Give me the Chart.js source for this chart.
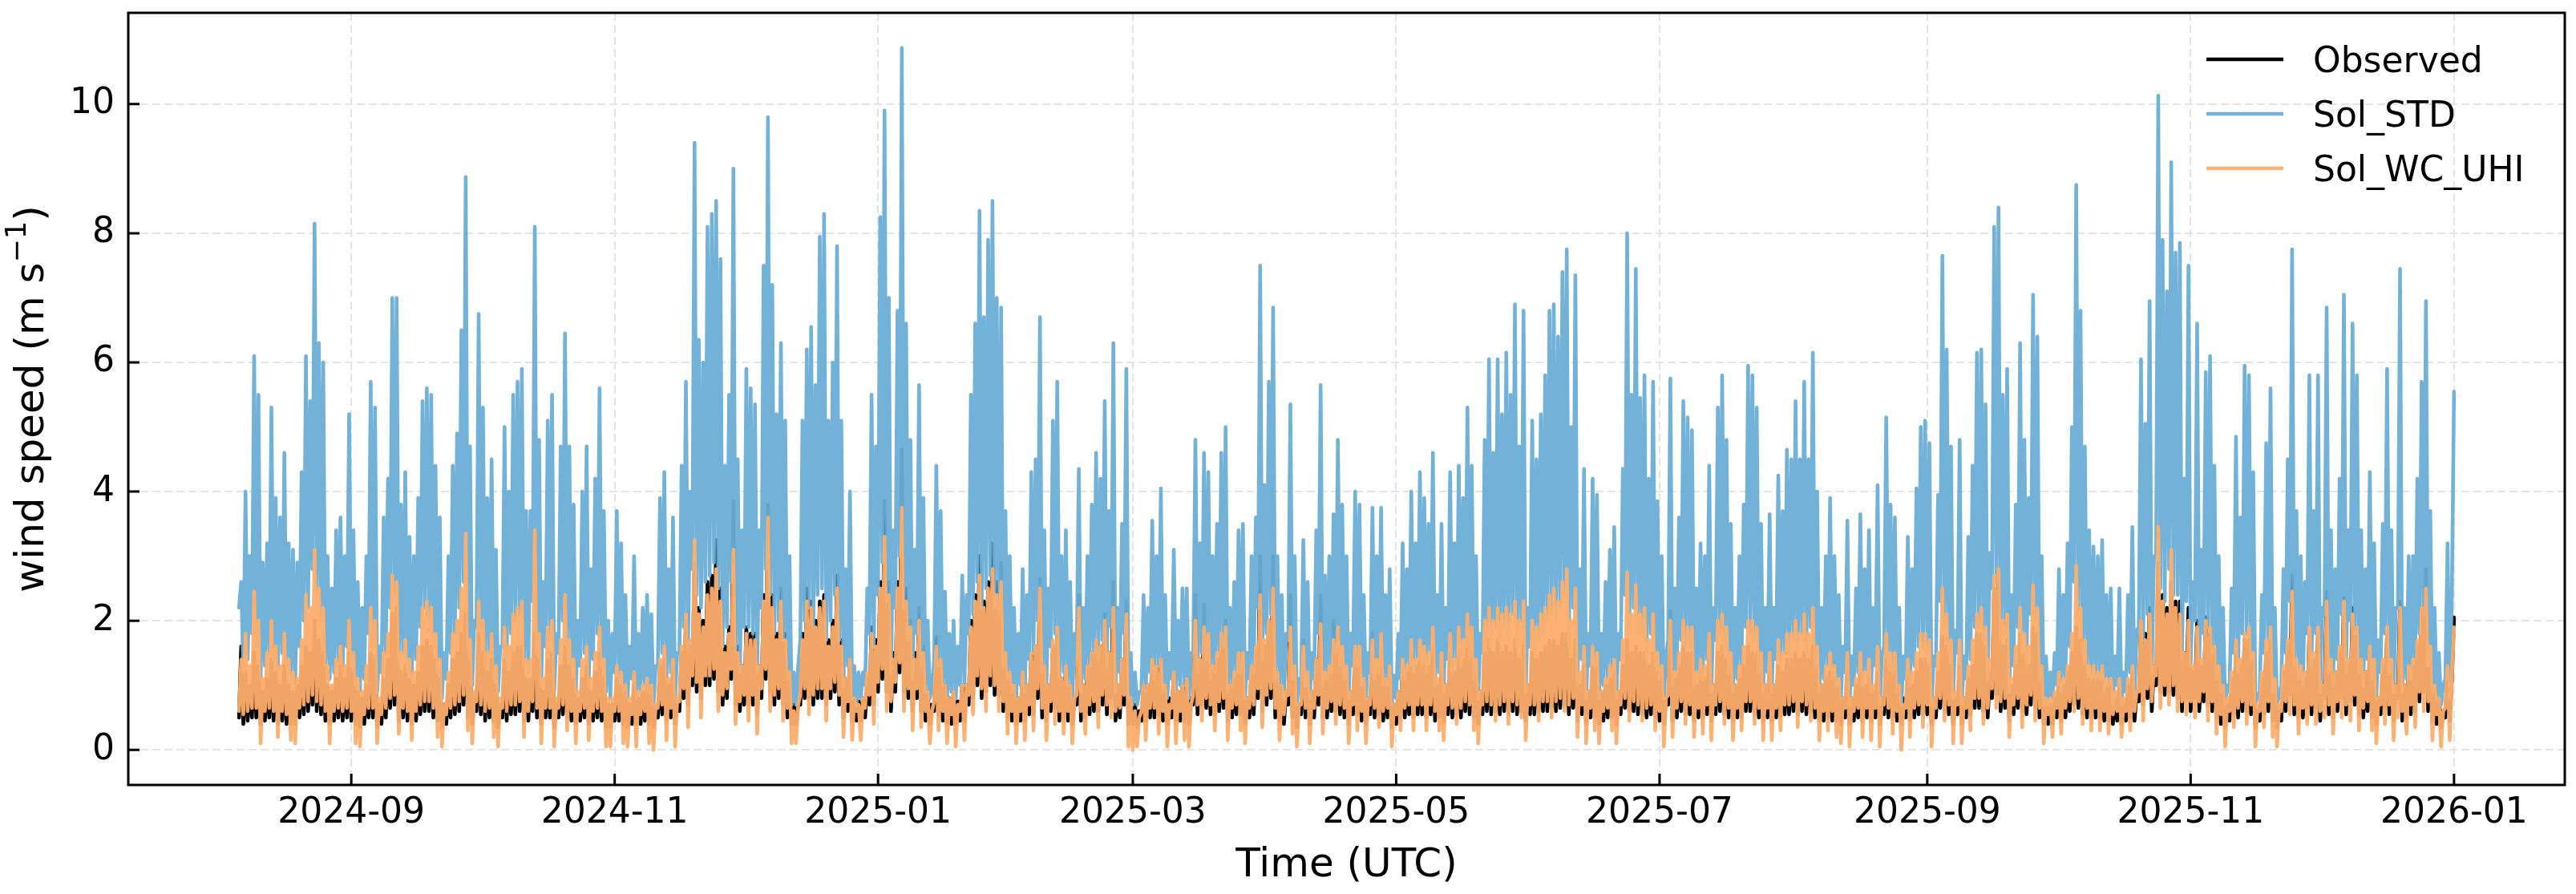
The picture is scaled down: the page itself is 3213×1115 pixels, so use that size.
<!DOCTYPE html>
<html lang="en">

<head>
  <meta charset="UTF-8" />
  <title>Wind speed: observed vs Sol_STD vs Sol_WC_UHI</title>
  <style>
    html, body { margin: 0; padding: 0; background: #fff; }
    canvas { display: block; }
  </style>
</head>

<body>
  <canvas id="myChart" width="3213" height="1115"></canvas>
  <script src="https://cdn.jsdelivr.net/npm/chart.js@4.4.1/dist/chart.umd.min.js"></script>
  <script>
    // series start 2024-08-06 00:00 UTC, one value every 12 h (night, afternoon)
    const startDate = '2024-08-06';
    const stepDays = 0.5;

    const observed = [
      0.5,1.6, 0.4,1.2, 0.45,1.0, 0.5,1.5, 0.5,1.3, 0.4,0.9, 0.45,1.1, 0.5,1.4, 0.45,1.2, 0.4,1.0,
      0.45,1.3, 0.4,1.0, 0.4,0.9, 0.4,1.0, 0.5,1.3, 0.55,1.6, 0.6,1.5, 0.7,2.0, 0.6,1.7, 0.55,1.5,
      0.45,1.0, 0.4,0.9, 0.45,1.1, 0.5,1.3, 0.45,1.1, 0.5,1.5, 0.45,1.2, 0.4,0.9, 0.35,0.8, 0.4,1.0,
      0.5,1.5, 0.5,1.4, 0.35,0.7, 0.4,1.1, 0.5,1.4, 0.65,2.1, 0.7,2.2, 0.45,1.2, 0.5,1.3, 0.45,1.1,
      0.4,1.0, 0.45,1.2, 0.55,1.6, 0.6,1.7, 0.6,1.6, 0.5,1.4, 0.45,1.1, 0.35,0.7, 0.4,1.0, 0.5,1.4,
      0.55,1.5, 0.6,1.8, 0.7,2.1, 0.5,1.4, 0.4,0.8, 0.6,1.8, 0.55,1.5, 0.45,1.2, 0.5,1.4, 0.45,1.0,
      0.35,0.7, 0.5,1.4, 0.45,1.2, 0.55,1.5, 0.55,1.6, 0.6,1.6, 0.45,1.1, 0.45,1.1, 0.6,1.8, 0.5,1.4,
      0.4,0.9, 0.5,1.4, 0.5,1.5, 0.35,0.7, 0.5,1.3, 0.55,1.6, 0.5,1.3, 0.45,1.1, 0.4,0.8, 0.45,1.1,
      0.5,1.3, 0.4,0.9, 0.45,1.2, 0.5,1.5, 0.45,1.1, 0.35,0.7, 0.35,0.7, 0.45,1.1, 0.45,1.0, 0.4,0.9,
      0.35,0.7, 0.4,1.0, 0.4,0.8, 0.4,0.9, 0.45,1.0, 0.4,0.9, 0.35,0.6, 0.5,1.3, 0.55,1.4, 0.45,1.0,
      0.5,1.2, 0.4,0.7, 0.6,1.5, 0.8,2.0, 0.7,1.6, 1.0,2.9, 0.9,2.2, 0.8,2.0, 1.0,2.6, 1.0,2.7,
      1.1,3.25, 0.9,2.5, 0.7,1.6, 0.8,1.9, 1.1,3.85, 0.7,1.6, 0.6,1.3, 0.7,1.9, 0.7,1.8, 0.7,1.8,
      0.55,1.3, 0.8,2.4, 1.1,3.8, 0.9,2.4, 0.7,1.8, 0.8,2.5, 0.7,1.8, 0.5,1.2, 0.4,0.7, 0.4,0.7,
      0.7,1.8, 0.8,2.5, 0.8,2.3, 0.7,2.0, 0.8,2.3, 0.8,2.4, 0.7,1.7, 0.8,2.0, 0.9,2.7, 0.7,1.7,
      0.5,1.1, 0.6,1.4, 0.45,0.8, 0.45,0.75, 0.45,0.8, 0.5,1.1, 0.7,1.9, 0.7,1.7, 0.9,2.6, 1.1,3.85,
      0.9,2.6, 0.6,1.5, 0.9,2.6, 1.2,4.65, 0.9,2.5, 0.8,2.0, 0.6,1.5, 0.8,2.2, 0.6,1.6, 0.45,0.9,
      0.4,0.7, 0.6,1.75, 0.55,1.4, 0.45,1.0, 0.4,0.8, 0.4,0.9, 0.4,0.75, 0.45,1.0, 0.45,1.0, 0.7,2.0,
      0.8,2.4, 1.0,3.0, 0.8,2.3, 0.9,2.6, 1.0,3.2, 0.85,2.6, 0.85,2.9, 0.6,1.5, 0.5,1.2, 0.45,1.0,
      0.4,0.8, 0.45,1.2, 0.45,1.0, 0.55,1.5, 0.55,1.6, 0.8,2.65, 0.5,1.3, 0.45,1.0, 0.6,1.6, 0.65,1.8,
      0.45,1.1, 0.5,1.3, 0.45,1.0, 0.4,0.8, 0.7,2.4, 0.45,1.0, 0.5,1.3, 0.55,1.5, 0.6,1.7, 0.6,1.6,
      0.7,2.1, 0.55,1.5, 0.8,2.6, 0.45,1.0, 0.5,1.4, 0.7,2.3, 0.4,0.8, 0.4,0.7, 0.35,0.6, 0.45,1.0,
      0.45,1.0, 0.5,1.4, 0.5,1.3, 0.55,1.4, 0.45,1.0, 0.4,0.8, 0.5,1.2, 0.45,0.9, 0.45,1.0, 0.45,1.1,
      0.4,0.8, 0.7,2.4, 0.55,1.4, 0.7,2.25, 0.65,1.8, 0.55,1.3, 0.55,1.4, 0.6,1.7, 0.65,2.0, 0.45,1.0,
      0.5,1.1, 0.55,1.4, 0.55,1.4, 0.4,0.8, 0.5,1.3, 0.55,1.5, 0.8,3.0, 0.6,1.6, 0.7,2.0, 0.8,3.0,
      0.5,1.2, 0.45,1.0, 0.4,0.9, 0.7,2.4, 0.5,1.3, 0.35,0.7, 0.55,1.7, 0.5,1.2, 0.4,0.9, 0.5,1.4,
      0.7,2.4, 0.5,1.2, 0.5,1.3, 0.6,2.0, 0.6,1.8, 0.55,1.5, 0.5,1.3, 0.4,0.9, 0.55,1.5, 0.55,1.5,
      0.45,1.1, 0.4,0.8, 0.55,1.8, 0.5,1.4, 0.55,1.8, 0.45,1.1, 0.5,1.2, 0.35,0.7, 0.4,0.9, 0.5,1.3,
      0.5,1.2, 0.55,1.5, 0.5,1.3, 0.55,1.5, 0.55,1.4, 0.5,1.3, 0.55,1.6, 0.45,1.0, 0.5,1.3, 0.45,1.0,
      0.55,1.5, 0.5,1.2, 0.55,1.5, 0.5,1.4, 0.6,1.7, 0.55,1.5, 0.5,1.2, 0.4,0.9, 0.55,1.5, 0.6,1.7,
      0.55,1.5, 0.6,1.7, 0.55,1.5, 0.6,1.6, 0.55,1.5, 0.6,1.7, 0.55,1.4, 0.6,1.6, 0.45,1.0, 0.55,1.5,
      0.55,1.4, 0.6,1.5, 0.6,1.6, 0.6,1.7, 0.65,1.7, 0.6,1.6, 0.65,1.8, 0.7,1.8, 0.55,1.4, 0.65,1.7,
      0.45,1.0, 0.55,1.3, 0.4,0.9, 0.5,1.3, 0.5,1.3, 0.4,0.9, 0.45,1.0, 0.5,1.1, 0.5,1.2, 0.4,0.9,
      0.55,1.3, 0.65,1.7, 0.6,1.5, 0.6,1.6, 0.55,1.5, 0.55,1.5, 0.5,1.3, 0.55,1.5, 0.5,1.2, 0.45,1.1,
      0.4,0.8, 0.7,2.15, 0.45,1.1, 0.5,1.3, 0.6,1.6, 0.55,1.5, 0.55,1.5, 0.45,1.0, 0.5,1.2, 0.5,1.1,
      0.55,1.4, 0.45,1.0, 0.55,1.5, 0.6,1.6, 0.55,1.4, 0.5,1.2, 0.45,1.0, 0.5,1.1, 0.5,1.3, 0.6,1.6,
      0.6,1.5, 0.55,1.5, 0.5,1.2, 0.45,1.0, 0.5,1.2, 0.45,1.0, 0.5,1.3, 0.5,1.2, 0.55,1.4, 0.55,1.4,
      0.6,1.5, 0.55,1.4, 0.6,1.5, 0.55,1.4, 0.6,1.6, 0.5,1.3, 0.45,1.0, 0.45,1.1, 0.5,1.2, 0.45,1.1,
      0.45,1.0, 0.4,0.8, 0.5,1.2, 0.4,0.8, 0.45,1.0, 0.5,1.2, 0.45,1.0, 0.5,1.1, 0.45,0.9, 0.5,1.2,
      0.4,0.8, 0.55,1.4, 0.5,1.2, 0.5,1.2, 0.45,0.9, 0.4,0.8, 0.5,1.1, 0.45,1.0, 0.5,1.2, 0.55,1.4,
      0.55,1.4, 0.55,1.3, 0.4,0.8, 0.5,1.2, 0.65,1.75, 0.6,1.6, 0.55,1.3, 0.4,0.8, 0.55,1.3, 0.4,0.8,
      0.5,1.1, 0.55,1.3, 0.65,1.8, 0.65,1.8, 0.6,1.6, 0.5,1.2, 0.8,2.5, 0.85,2.75, 0.6,1.6, 0.65,1.7,
      0.45,1.0, 0.55,1.3, 0.65,1.8, 0.6,1.5, 0.55,1.3, 0.7,1.9, 0.65,1.8, 0.5,1.1, 0.4,0.8, 0.4,0.7,
      0.4,0.8, 0.5,1.1, 0.45,1.0, 0.5,1.2, 0.6,1.5, 0.7,1.9, 0.65,1.7, 0.55,1.3, 0.5,1.1, 0.5,1.1,
      0.5,1.1, 0.5,1.1, 0.45,1.0, 0.45,1.0, 0.4,0.8, 0.45,1.0, 0.4,0.7, 0.45,1.0, 0.5,1.2, 0.45,0.9,
      0.75,2.0, 0.7,1.8, 0.8,2.2, 0.6,1.3, 1.0,2.9, 0.9,2.4, 0.85,2.2, 0.9,2.6, 0.85,2.3, 0.8,2.3,
      0.6,1.5, 0.8,2.2, 0.6,1.2, 0.8,2.0, 0.6,1.3, 0.75,2.05, 0.7,1.8, 0.6,1.5, 0.5,1.2, 0.4,0.9,
      0.35,0.7, 0.45,1.1, 0.55,1.5, 0.5,1.3, 0.6,1.7, 0.6,1.7, 0.55,1.4, 0.35,0.6, 0.45,1.1, 0.55,1.5,
      0.6,1.7, 0.45,1.0, 0.35,0.6, 0.45,1.2, 0.6,1.6, 0.85,2.7, 0.55,1.3, 0.5,1.2, 0.5,1.1, 0.65,1.8,
      0.55,1.4, 0.65,1.8, 0.45,1.0, 0.8,2.45, 0.55,1.3, 0.5,1.2, 0.6,1.5, 0.8,2.35, 0.55,1.3, 0.75,2.2,
      0.7,1.9, 0.55,1.3, 0.5,1.2, 0.6,1.5, 0.5,1.3, 0.4,0.8, 0.55,1.3, 0.65,1.8, 0.55,1.3, 0.45,1.0,
      0.8,2.3, 0.45,1.0, 0.5,1.2, 0.55,1.3, 0.6,1.6, 0.75,2.2, 0.9,2.8, 0.6,1.5, 0.45,1.0, 0.4,0.8,
      0.35,0.6, 0.5,1.3, 0.45,1.1,
      2.05
    ];

    const solStd = [
      2.2,2.6, 1.2,4.0, 1.4,3.0, 1.8,6.1, 1.6,5.5, 1.1,2.9, 1.3,3.2, 1.5,5.3, 1.4,3.9, 1.2,3.6,
      1.5,4.6, 1.3,3.2, 1.1,3.1, 1.0,2.9, 1.6,4.3, 2.0,6.1, 2.2,5.4, 2.8,8.15, 2.4,6.3, 2.0,6.0,
      1.3,3.0, 1.1,2.5, 1.2,3.4, 1.4,3.6, 1.2,3.0, 1.6,5.2, 1.3,3.4, 1.0,2.6, 0.9,2.2, 1.1,3.0,
      1.8,5.7, 1.6,5.3, 0.9,1.6, 1.2,3.6, 1.5,4.2, 2.2,7.0, 2.4,7.0, 1.4,3.8, 1.5,4.3, 1.2,3.3,
      1.1,3.0, 1.4,3.9, 1.9,5.4, 2.2,5.6, 2.0,5.5, 1.6,4.4, 1.2,3.6, 0.8,1.5, 1.1,3.0, 1.5,4.4,
      1.8,4.9, 2.2,6.5, 2.6,8.87, 1.6,4.7, 1.0,2.0, 1.9,6.75, 1.8,5.3, 1.3,3.9, 1.5,4.5, 1.1,3.1,
      0.9,1.6, 1.6,5.0, 1.4,4.0, 1.8,5.5, 2.0,5.7, 2.1,5.9, 1.3,3.7, 1.2,3.7, 2.3,8.1, 1.5,4.8,
      1.0,2.6, 1.6,5.1, 1.8,5.5, 0.9,1.8, 1.5,4.7, 2.0,6.45, 1.6,4.7, 1.3,3.8, 0.9,2.0, 1.3,4.0,
      1.5,4.7, 1.0,2.8, 1.4,4.2, 1.8,5.6, 1.3,3.7, 0.9,2.0, 0.8,1.8, 1.2,3.7, 1.1,3.2, 0.9,2.4,
      0.8,1.6, 1.1,3.0, 0.8,1.8, 0.9,2.2, 1.0,2.4, 0.9,2.1, 0.7,1.3, 1.3,3.9, 1.5,4.3, 1.1,2.8,
      1.2,3.6, 0.8,1.5, 1.5,4.4, 1.9,5.7, 1.6,4.0, 2.8,9.4, 2.4,6.35, 2.2,6.0, 2.6,8.1, 2.7,8.3,
      2.9,8.5, 2.5,7.6, 1.6,4.4, 1.9,5.5, 2.6,9.0, 1.5,4.5, 1.2,3.4, 1.9,5.9, 1.9,5.6, 1.8,5.35,
      1.2,3.4, 2.2,7.5, 2.8,9.8, 2.4,7.2, 1.8,5.2, 2.0,6.3, 1.7,5.1, 1.1,3.0, 0.7,1.2, 0.7,1.3,
      1.7,5.1, 2.0,6.2, 2.2,6.55, 1.9,5.65, 2.4,7.95, 2.5,8.3, 1.7,5.1, 2.0,6.0, 2.4,7.8, 1.7,5.1,
      1.0,2.8, 1.3,4.0, 0.8,1.3, 0.7,1.2, 0.8,1.2, 1.0,2.5, 1.8,5.5, 1.6,4.7, 2.4,8.25, 2.9,9.9,
      2.3,7.0, 1.2,3.4, 2.2,6.8, 3.0,10.87, 2.2,6.6, 1.7,4.8, 1.1,3.1, 1.8,5.65, 1.3,3.9, 0.9,2.0,
      0.8,1.0, 1.4,4.4, 1.3,3.7, 1.0,2.45, 0.8,1.8, 0.9,2.0, 0.8,1.6, 1.0,2.7, 1.0,2.4, 1.8,5.5,
      2.1,6.6, 2.6,8.35, 2.2,6.7, 2.5,7.9, 2.7,8.5, 2.2,7.0, 2.1,6.85, 1.3,3.7, 1.1,3.0, 0.9,2.2,
      0.8,1.8, 1.0,2.8, 0.9,2.4, 1.4,4.3, 1.5,4.5, 2.0,6.7, 1.2,3.4, 1.0,2.5, 1.6,5.1, 1.8,5.7,
      1.1,3.0, 1.2,3.4, 1.0,2.6, 0.8,1.8, 1.4,4.35, 0.9,2.2, 1.1,3.0, 1.3,3.8, 1.5,4.6, 1.4,4.2,
      1.7,5.4, 1.3,3.7, 1.9,6.3, 0.9,2.2, 1.2,3.5, 1.8,5.9, 0.8,1.5, 0.7,1.2, 0.7,0.9, 0.9,2.4,
      0.9,2.2, 1.2,3.55, 1.1,3.0, 1.3,4.05, 0.9,2.4, 0.8,1.5, 1.1,3.1, 0.9,2.0, 1.0,2.5, 1.0,2.5,
      0.8,1.5, 1.5,4.8, 1.2,3.2, 1.5,4.6, 1.4,4.3, 1.1,3.0, 1.2,3.5, 1.5,4.6, 1.6,5.0, 0.9,2.2,
      1.0,2.6, 1.2,3.4, 1.2,3.5, 0.8,1.5, 1.1,3.0, 1.2,3.6, 2.2,7.5, 1.4,4.1, 1.8,5.7, 2.1,6.85,
      1.1,3.0, 1.0,2.4, 0.8,1.8, 1.7,5.35, 1.1,3.0, 0.7,1.1, 1.1,3.25, 1.0,2.6, 0.8,1.5, 1.1,3.4,
      1.8,5.65, 1.0,2.7, 1.1,3.0, 1.2,3.65, 1.5,4.8, 1.3,3.8, 1.1,3.0, 0.8,1.8, 1.3,4.0, 1.3,3.8,
      1.0,2.4, 0.8,1.5, 1.2,3.75, 1.1,3.0, 1.2,3.75, 1.0,2.4, 1.0,2.8, 0.7,1.15, 0.8,1.8, 1.1,3.2,
      1.1,2.8, 1.3,4.0, 1.2,3.2, 1.4,4.3, 1.3,3.9, 1.2,3.5, 1.5,4.6, 1.0,2.4, 1.2,3.5, 0.9,2.2,
      1.4,4.3, 1.2,3.2, 1.4,4.4, 1.3,3.9, 1.6,5.3, 1.4,4.4, 1.1,3.0, 0.8,1.8, 1.5,4.8, 1.8,6.05,
      1.6,4.6, 1.9,6.05, 1.7,5.2, 1.9,6.15, 1.7,5.5, 2.1,6.9, 1.6,4.7, 2.0,6.8, 0.9,2.2, 1.6,5.1,
      1.5,4.5, 1.7,5.2, 1.8,5.8, 2.0,6.8, 2.1,6.9, 2.0,6.4, 2.2,7.4, 2.4,7.75, 1.6,5.0, 2.2,7.35,
      1.0,2.8, 1.4,4.35, 0.8,1.8, 1.3,4.2, 1.3,3.95, 0.8,1.8, 1.0,2.6, 1.1,3.1, 1.2,3.45, 0.8,1.8,
      1.4,4.35, 2.4,8.0, 1.8,5.5, 2.2,7.45, 1.8,5.45, 1.8,5.8, 1.4,4.2, 1.8,5.7, 1.3,3.85, 1.1,3.0,
      0.8,1.45, 1.7,5.75, 1.0,2.5, 1.2,3.6, 1.7,5.4, 1.6,5.15, 1.6,4.95, 1.0,2.5, 1.1,3.2, 1.1,3.0,
      1.4,4.4, 0.9,2.2, 1.7,5.3, 1.8,5.8, 1.5,4.8, 1.2,3.5, 0.9,2.2, 1.1,3.0, 1.3,3.8, 1.9,5.95,
      1.8,5.8, 1.7,5.3, 1.2,3.5, 0.9,2.2, 1.2,3.65, 0.9,2.2, 1.4,4.25, 1.3,3.7, 1.5,4.65, 1.5,4.5,
      1.7,5.4, 1.5,4.5, 1.8,5.7, 1.5,4.5, 1.9,6.15, 1.3,4.0, 0.9,2.2, 1.1,3.0, 1.3,3.9, 1.1,3.0,
      1.0,2.4, 0.8,1.6, 1.2,3.55, 0.7,1.45, 1.0,2.5, 1.2,3.65, 1.0,2.8, 1.1,3.4, 0.9,2.2, 1.3,4.1,
      0.7,1.45, 1.6,5.15, 1.3,3.8, 1.2,3.6, 0.9,2.2, 0.7,1.45, 1.1,3.3, 1.0,2.8, 1.3,4.05, 1.6,5.0,
      1.6,5.1, 1.5,4.75, 0.7,1.45, 1.3,3.95, 2.3,7.65, 1.9,6.2, 1.5,4.7, 0.8,1.85, 1.5,4.8, 0.7,1.45,
      1.1,3.3, 1.4,4.4, 1.9,6.15, 1.9,6.2, 1.7,5.35, 1.1,3.05, 2.5,8.1, 2.6,8.4, 1.7,5.5, 1.8,5.9,
      0.9,2.4, 1.3,3.8, 1.9,6.3, 1.5,4.8, 1.3,3.9, 2.1,7.05, 2.0,6.4, 1.1,3.0, 0.7,1.45, 0.7,1.2,
      0.8,1.5, 1.0,2.8, 0.9,2.4, 1.1,3.2, 1.6,5.0, 2.6,8.75, 2.1,6.8, 1.5,4.7, 1.2,3.4, 1.1,3.15,
      1.1,3.0, 1.1,3.25, 0.9,2.4, 1.0,2.5, 0.7,1.45, 1.0,2.5, 0.7,1.2, 0.9,2.4, 1.2,3.45, 0.8,1.85,
      1.9,6.05, 1.7,5.05, 2.1,6.95, 1.2,3.0, 3.0,10.13, 2.5,7.9, 2.3,7.1, 2.8,9.1, 2.4,7.7, 2.4,7.85,
      1.4,4.2, 2.3,7.5, 1.3,2.6, 2.0,6.6, 1.4,3.1, 1.8,5.85, 1.9,6.1, 1.5,4.4, 1.1,3.0, 0.9,2.2,
      0.7,1.0, 0.9,2.5, 1.5,4.85, 1.2,3.6, 1.8,5.95, 1.8,5.8, 1.4,4.3, 0.7,0.85, 0.9,2.4, 1.5,4.75,
      1.7,5.6, 0.9,2.2, 0.7,0.85, 1.0,2.8, 1.5,4.5, 2.3,7.75, 1.3,3.7, 1.1,3.0, 1.0,2.6, 1.8,5.8,
      1.3,3.7, 1.8,5.8, 0.9,2.2, 2.1,6.85, 1.2,3.4, 1.0,2.8, 1.4,4.2, 2.1,7.05, 1.2,3.4, 2.0,6.6,
      1.8,5.8, 1.2,3.4, 1.0,2.8, 1.4,4.3, 1.1,3.2, 0.8,1.7, 1.2,3.5, 1.8,5.9, 1.2,3.4, 0.9,2.2,
      2.2,7.45, 0.9,2.2, 1.1,3.0, 1.1,3.0, 1.4,4.2, 1.8,5.7, 2.1,6.95, 1.3,3.7, 0.9,2.2, 0.8,1.5,
      0.7,1.0, 1.1,3.2, 0.8,2.4,
      5.55
    ];

    const solWcUhi = [
      0.6,1.4, 0.55,1.8, 0.6,1.3, 0.65,2.45, 0.65,2.0, 0.1,1.1, 0.6,1.5, 0.65,2.0, 0.6,1.6, 0.2,1.3,
      0.6,1.8, 0.55,1.4, 0.15,1.2, 0.1,1.1, 0.65,1.7, 0.7,2.4, 0.75,2.2, 0.85,3.1, 0.75,2.5, 0.7,2.2,
      0.6,1.3, 0.1,1.0, 0.6,1.4, 0.65,1.6, 0.6,1.3, 0.65,2.0, 0.6,1.5, 0.1,1.1, 0.05,0.9, 0.55,1.3,
      0.65,2.2, 0.65,2.0, 0.1,0.8, 0.55,1.5, 0.65,1.8, 0.8,2.7, 0.85,2.6, 0.25,1.5, 0.65,1.7, 0.6,1.4,
      0.15,1.2, 0.6,1.6, 0.7,2.2, 0.75,2.3, 0.75,2.2, 0.65,1.8, 0.2,1.4, 0.05,0.7, 0.55,1.2, 0.65,1.8,
      0.7,2.0, 0.75,2.5, 0.85,3.35, 0.3,1.7, 0.1,0.9, 0.75,2.3, 0.7,2.0, 0.6,1.5, 0.65,1.8, 0.2,1.3,
      0.05,0.8, 0.65,1.9, 0.6,1.6, 0.7,2.1, 0.7,2.2, 0.75,2.3, 0.2,1.4, 0.6,1.4, 0.75,3.4, 0.65,1.8,
      0.1,1.1, 0.65,1.9, 0.65,2.0, 0.05,0.8, 0.65,1.7, 0.7,2.4, 0.3,1.7, 0.6,1.4, 0.1,0.9, 0.6,1.4,
      0.65,1.6, 0.15,1.1, 0.6,1.5, 0.65,1.9, 0.6,1.4, 0.05,0.8, 0.05,0.8, 0.6,1.3, 0.6,1.2, 0.1,1.0,
      0.05,0.8, 0.55,1.2, 0.05,0.9, 0.55,1.0, 0.6,1.1, 0.1,1.0, 0.0,0.7, 0.65,1.4, 0.7,1.6, 0.15,1.1,
      0.65,1.4, 0.05,0.8, 0.75,1.6, 0.95,2.1, 0.35,1.7, 1.15,3.25, 1.05,2.1, 0.5,1.9, 1.15,2.4, 1.15,2.5,
      1.25,2.8, 0.6,2.3, 0.85,1.5, 0.95,1.8, 1.25,3.1, 0.4,1.5, 0.75,1.3, 0.85,1.8, 0.45,1.7, 0.85,1.7,
      0.25,1.3, 0.95,2.3, 1.25,3.6, 0.6,2.2, 0.85,1.7, 0.95,2.3, 0.45,1.7, 0.65,1.2, 0.1,0.6, 0.1,0.7,
      0.85,1.7, 0.95,2.3, 0.55,2.2, 0.85,1.9, 0.95,2.2, 0.95,2.3, 0.45,1.6, 0.95,1.9, 1.05,2.5, 0.85,1.6,
      0.2,1.1, 0.75,1.4, 0.15,0.8, 0.6,0.7, 0.15,0.8, 0.65,1.2, 0.85,1.8, 0.4,1.6, 1.05,2.5, 1.25,3.3,
      0.6,2.4, 0.75,1.4, 1.05,2.5, 1.35,3.75, 0.6,2.3, 0.95,1.9, 0.3,1.4, 0.95,2.0, 0.35,1.5, 0.6,0.9,
      0.1,0.6, 0.75,1.6, 0.3,1.4, 0.6,1.0, 0.1,0.8, 0.55,0.9, 0.05,0.7, 0.6,1.0, 0.15,1.0, 0.85,1.9,
      0.55,2.3, 1.15,2.7, 0.95,2.2, 0.6,2.5, 1.15,2.8, 1.0,2.4, 0.6,2.6, 0.75,1.5, 0.25,1.2, 0.6,1.0,
      0.1,0.8, 0.6,1.2, 0.15,1.0, 0.7,1.5, 0.3,1.6, 0.95,2.5, 0.65,1.3, 0.15,1.0, 0.75,1.7, 0.4,1.9,
      0.6,1.1, 0.25,1.3, 0.6,1.0, 0.1,0.8, 0.85,2.2, 0.6,1.0, 0.25,1.3, 0.7,1.5, 0.75,1.7, 0.35,1.6,
      0.85,2.0, 0.7,1.5, 0.5,2.2, 0.6,1.0, 0.65,1.4, 0.85,2.1, 0.05,0.8, 0.0,0.6, 0.05,0.5, 0.6,1.0,
      0.15,1.0, 0.65,1.4, 0.65,1.3, 0.25,1.4, 0.6,1.0, 0.05,0.7, 0.65,1.2, 0.1,0.9, 0.6,1.0, 0.15,1.1,
      0.05,0.7, 0.85,2.0, 0.7,1.4, 0.45,1.9, 0.8,1.8, 0.7,1.3, 0.3,1.5, 0.75,1.8, 0.8,1.9, 0.15,1.0,
      0.65,1.2, 0.7,1.5, 0.3,1.5, 0.1,0.8, 0.65,1.3, 0.7,1.6, 0.95,2.4, 0.35,1.7, 0.85,2.0, 0.95,2.5,
      0.65,1.2, 0.15,1.0, 0.55,0.9, 0.85,1.9, 0.25,1.3, 0.05,0.7, 0.7,1.6, 0.65,1.2, 0.1,0.9, 0.65,1.4,
      0.85,1.95, 0.25,1.2, 0.65,1.3, 0.75,1.7, 0.4,1.9, 0.7,1.6, 0.65,1.3, 0.1,0.9, 0.7,1.6, 0.3,1.6,
      0.6,1.1, 0.1,0.8, 0.7,1.7, 0.65,1.4, 0.35,1.8, 0.6,1.1, 0.65,1.3, 0.05,0.7, 0.55,0.9, 0.3,1.4,
      0.65,1.3, 0.7,1.7, 0.3,1.4, 0.7,1.7, 0.7,1.6, 0.3,1.5, 0.7,1.9, 0.6,1.1, 0.3,1.5, 0.15,1.0,
      0.7,1.8, 0.65,1.4, 0.4,1.9, 0.65,1.7, 0.75,2.1, 0.7,1.9, 0.3,1.4, 0.1,0.9, 0.7,2.0, 0.75,2.2,
      0.7,2.0, 0.45,2.2, 0.7,2.1, 0.75,2.2, 0.4,2.1, 0.75,2.3, 0.7,2.0, 0.5,2.3, 0.15,1.0, 0.7,2.0,
      0.7,1.9, 0.45,2.1, 0.75,2.2, 0.75,2.4, 0.5,2.5, 0.75,2.3, 0.8,2.6, 0.6,2.8, 0.7,2.0, 0.8,2.5,
      0.2,1.2, 0.7,1.6, 0.1,0.9, 0.65,1.6, 0.3,1.5, 0.1,0.9, 0.6,1.1, 0.65,1.3, 0.3,1.4, 0.1,0.9,
      0.7,1.7, 0.8,2.75, 0.45,2.1, 0.75,2.55, 0.7,2.1, 0.45,2.2, 0.65,1.7, 0.7,2.1, 0.3,1.5, 0.6,1.3,
      0.05,0.8, 0.85,2.0, 0.2,1.2, 0.65,1.5, 0.75,2.0, 0.4,1.9, 0.7,1.9, 0.2,1.2, 0.65,1.4, 0.25,1.3,
      0.7,1.8, 0.15,1.0, 0.7,2.0, 0.75,2.1, 0.4,1.9, 0.65,1.5, 0.15,1.0, 0.65,1.3, 0.3,1.6, 0.75,2.0,
      0.75,2.0, 0.4,1.9, 0.65,1.5, 0.15,1.0, 0.65,1.5, 0.15,1.0, 0.65,1.7, 0.3,1.5, 0.7,1.8, 0.7,1.8,
      0.75,2.0, 0.35,1.8, 0.75,2.1, 0.7,1.8, 0.45,2.2, 0.65,1.6, 0.15,1.0, 0.6,1.3, 0.3,1.5, 0.6,1.3,
      0.2,1.1, 0.1,0.8, 0.65,1.5, 0.05,0.8, 0.6,1.1, 0.65,1.5, 0.2,1.2, 0.65,1.4, 0.15,1.0, 0.65,1.6,
      0.05,0.8, 0.7,1.8, 0.65,1.5, 0.25,1.5, 0.6,1.0, 0.0,0.7, 0.65,1.4, 0.2,1.2, 0.65,1.5, 0.7,1.8,
      0.35,1.8, 0.7,1.7, 0.05,0.8, 0.65,1.5, 0.8,2.5, 0.45,2.1, 0.7,1.7, 0.1,0.9, 0.7,1.7, 0.1,0.8,
      0.65,1.3, 0.3,1.7, 0.8,2.1, 0.8,2.2, 0.4,1.9, 0.65,1.4, 0.95,2.7, 0.65,2.8, 0.75,2.0, 0.8,2.1,
      0.2,1.1, 0.7,1.6, 0.8,2.2, 0.35,1.8, 0.7,1.6, 0.85,2.55, 0.45,2.2, 0.65,1.3, 0.1,0.8, 0.55,0.8,
      0.2,0.9, 0.65,1.2, 0.25,1.1, 0.65,1.3, 0.75,1.8, 0.6,2.85, 0.8,2.2, 0.4,1.7, 0.65,1.3, 0.3,1.3,
      0.65,1.2, 0.3,1.3, 0.6,1.1, 0.25,1.1, 0.55,0.9, 0.6,1.1, 0.2,0.8, 0.6,1.1, 0.3,1.3, 0.6,0.9,
      0.9,2.0, 0.45,1.7, 0.95,2.1, 0.75,1.3, 1.15,3.45, 0.65,2.3, 1.0,2.1, 0.7,3.1, 1.0,2.2, 0.6,2.1,
      0.75,1.5, 0.55,2.0, 0.75,1.3, 0.5,1.9, 0.75,1.4, 0.9,2.0, 0.45,1.9, 0.75,1.6, 0.25,1.3, 0.55,1.0,
      0.05,0.8, 0.6,1.2, 0.35,1.7, 0.65,1.4, 0.75,1.8, 0.4,1.9, 0.7,1.5, 0.05,0.7, 0.6,1.2, 0.35,1.7,
      0.75,1.9, 0.2,1.1, 0.05,0.7, 0.6,1.3, 0.75,1.7, 0.55,2.45, 0.7,1.4, 0.25,1.3, 0.65,1.2, 0.4,1.9,
      0.7,1.5, 0.4,1.9, 0.6,1.0, 0.5,2.3, 0.7,1.4, 0.25,1.2, 0.75,1.6, 0.5,2.3, 0.7,1.4, 0.45,2.1,
      0.85,1.9, 0.3,1.4, 0.65,1.2, 0.75,1.6, 0.3,1.4, 0.1,0.8, 0.7,1.4, 0.4,1.9, 0.7,1.4, 0.15,1.0,
      0.5,2.2, 0.6,1.0, 0.25,1.3, 0.7,1.4, 0.35,1.7, 0.9,2.2, 0.6,2.5, 0.75,1.6, 0.15,1.0, 0.55,0.8,
      0.05,0.6, 0.65,1.3, 0.15,1.1,
      1.9
    ];

    const xTickLabels = ['2024-09', '2024-11', '2025-01', '2025-03', '2025-05',
                         '2025-07', '2025-09', '2025-11', '2026-01'];
    const yTicks = [0, 2, 4, 6, 8, 10];

    // day offsets from the first sample
    const t0 = Date.parse(startDate + 'T00:00:00Z');
    const toDays = s => (Date.parse(s + '-01T00:00:00Z') - t0) / 864e5;
    const xTickDays = xTickLabels.map(toDays);

    const asPoints = arr => arr.map((v, i) => ({ x: i * stepDays, y: v }));

    // matplotlib style 5% margins
    const lastDay = (observed.length - 1) * stepDays;
    const xPad = lastDay * 0.05;
    const yMaxData = 10.87, yPad = yMaxData * 0.05;

    const FONT = 'DejaVu Sans';

    const whiteBg = {
      id: 'whiteBg',
      beforeDraw(chart) {
        const ctx = chart.ctx;
        ctx.save();
        ctx.fillStyle = '#fff';
        ctx.fillRect(0, 0, chart.width, chart.height);
        ctx.restore();
      }
    };

    // box, inward ticks, y label with superscript, frameless legend
    const frame = {
      id: 'frame',
      afterDatasetsDraw(chart) {
        const { ctx, chartArea: a, scales: { x, y } } = chart;
        ctx.save();
        ctx.strokeStyle = '#000';
        ctx.lineWidth = 3;
        ctx.strokeRect(a.left, a.top, a.right - a.left, a.bottom - a.top);
        ctx.beginPath();
        x.ticks.forEach(t => {
          const px = x.getPixelForValue(t.value);
          ctx.moveTo(px, a.bottom);
          ctx.lineTo(px, a.bottom - 14);
        });
        y.ticks.forEach(t => {
          const py = y.getPixelForValue(t.value);
          ctx.moveTo(a.left, py);
          ctx.lineTo(a.left + 14, py);
        });
        ctx.stroke();

        // y axis label: wind speed (m s^-1)
        const big = '50px "' + FONT + '"', small = '35px "' + FONT + '"';
        const p1 = 'wind speed (m s', p2 = '\u22121', p3 = ')';
        ctx.font = big; const w1 = ctx.measureText(p1).width, w3 = ctx.measureText(p3).width;
        ctx.font = small; const w2 = ctx.measureText(p2).width;
        const total = w1 + w2 + w3;
        ctx.translate(54, (a.top + a.bottom) / 2);
        ctx.rotate(-Math.PI / 2);
        ctx.fillStyle = '#000';
        ctx.textBaseline = 'alphabetic';
        ctx.textAlign = 'left';
        let cx = -total / 2;
        ctx.font = big; ctx.fillText(p1, cx, 0); cx += w1;
        ctx.font = small; ctx.fillText(p2, cx, -22); cx += w2;
        ctx.font = big; ctx.fillText(p3, cx, 0);
        ctx.setTransform(1, 0, 0, 1, 0, 0);

        ctx.font = '44px "' + FONT + '"';
        chart.data.datasets.forEach((ds, i) => {
          const ly = 74 + i * 68;
          ctx.strokeStyle = ds.borderColor;
          ctx.lineWidth = 4.6;
          ctx.beginPath();
          ctx.moveTo(2752, ly);
          ctx.lineTo(2848, ly);
          ctx.stroke();
          ctx.fillStyle = '#000';
          ctx.fillText(ds.label, 2885, ly + 16);
        });
        ctx.restore();
      }
    };

    const ctx = document.getElementById('myChart').getContext('2d');

    const myChart = new Chart(ctx, {
      type: 'line',
      data: {
        datasets: [{
          label: 'Observed',
          data: asPoints(observed),
          borderColor: '#000000',
          order: 3
        }, {
          label: 'Sol_STD',
          data: asPoints(solStd),
          borderColor: 'rgba(107, 174, 214, 0.95)',
          order: 2
        }, {
          label: 'Sol_WC_UHI',
          data: asPoints(solWcUhi),
          borderColor: 'rgba(253, 174, 107, 0.95)',
          order: 1
        }]
      },
      options: {
        responsive: false,
        animation: false,
        devicePixelRatio: 1,
        layout: { padding: { top: 16, right: 14, left: 0, bottom: 0 } },
        elements: {
          line: { borderWidth: 4.6, tension: 0, borderJoinStyle: 'round', borderCapStyle: 'round' },
          point: { radius: 0 }
        },
        plugins: {
          legend: { display: false },
          tooltip: { enabled: false }
        },
        scales: {
          x: {
            type: 'linear',
            min: -xPad,
            max: lastDay + xPad,
            afterFit: s => { s.height = 136; s.paddingLeft = 0; s.paddingRight = 0; },
            afterBuildTicks: s => { s.ticks = xTickDays.map(v => ({ value: v })); },
            grid: { color: '#e4e4e4', lineWidth: 2, drawTicks: false },
            border: { display: false, dash: [10, 5] },
            ticks: {
              autoSkip: false,
              maxRotation: 0,
              padding: 9,
              color: '#000',
              font: { family: FONT, size: 44 },
              callback: (v, i) => xTickLabels[i]
            },
            title: {
              display: true,
              text: 'Time (UTC)',
              color: '#000',
              font: { family: FONT, size: 50 },
              padding: { top: 0, bottom: 5 }
            }
          },
          y: {
            min: -yPad,
            max: yMaxData + yPad,
            afterFit: s => { s.width = 160; s.paddingTop = 0; s.paddingBottom = 0; },
            afterBuildTicks: s => { s.ticks = yTicks.map(v => ({ value: v })); },
            grid: { color: '#e4e4e4', lineWidth: 2, drawTicks: false },
            border: { display: false, dash: [10, 5] },
            ticks: {
              padding: 17,
              color: '#000',
              font: { family: FONT, size: 44 },
              callback: v => String(v)
            }
          }
        }
      },
      plugins: [whiteBg, frame]
    });
  </script>
</body>

</html>
